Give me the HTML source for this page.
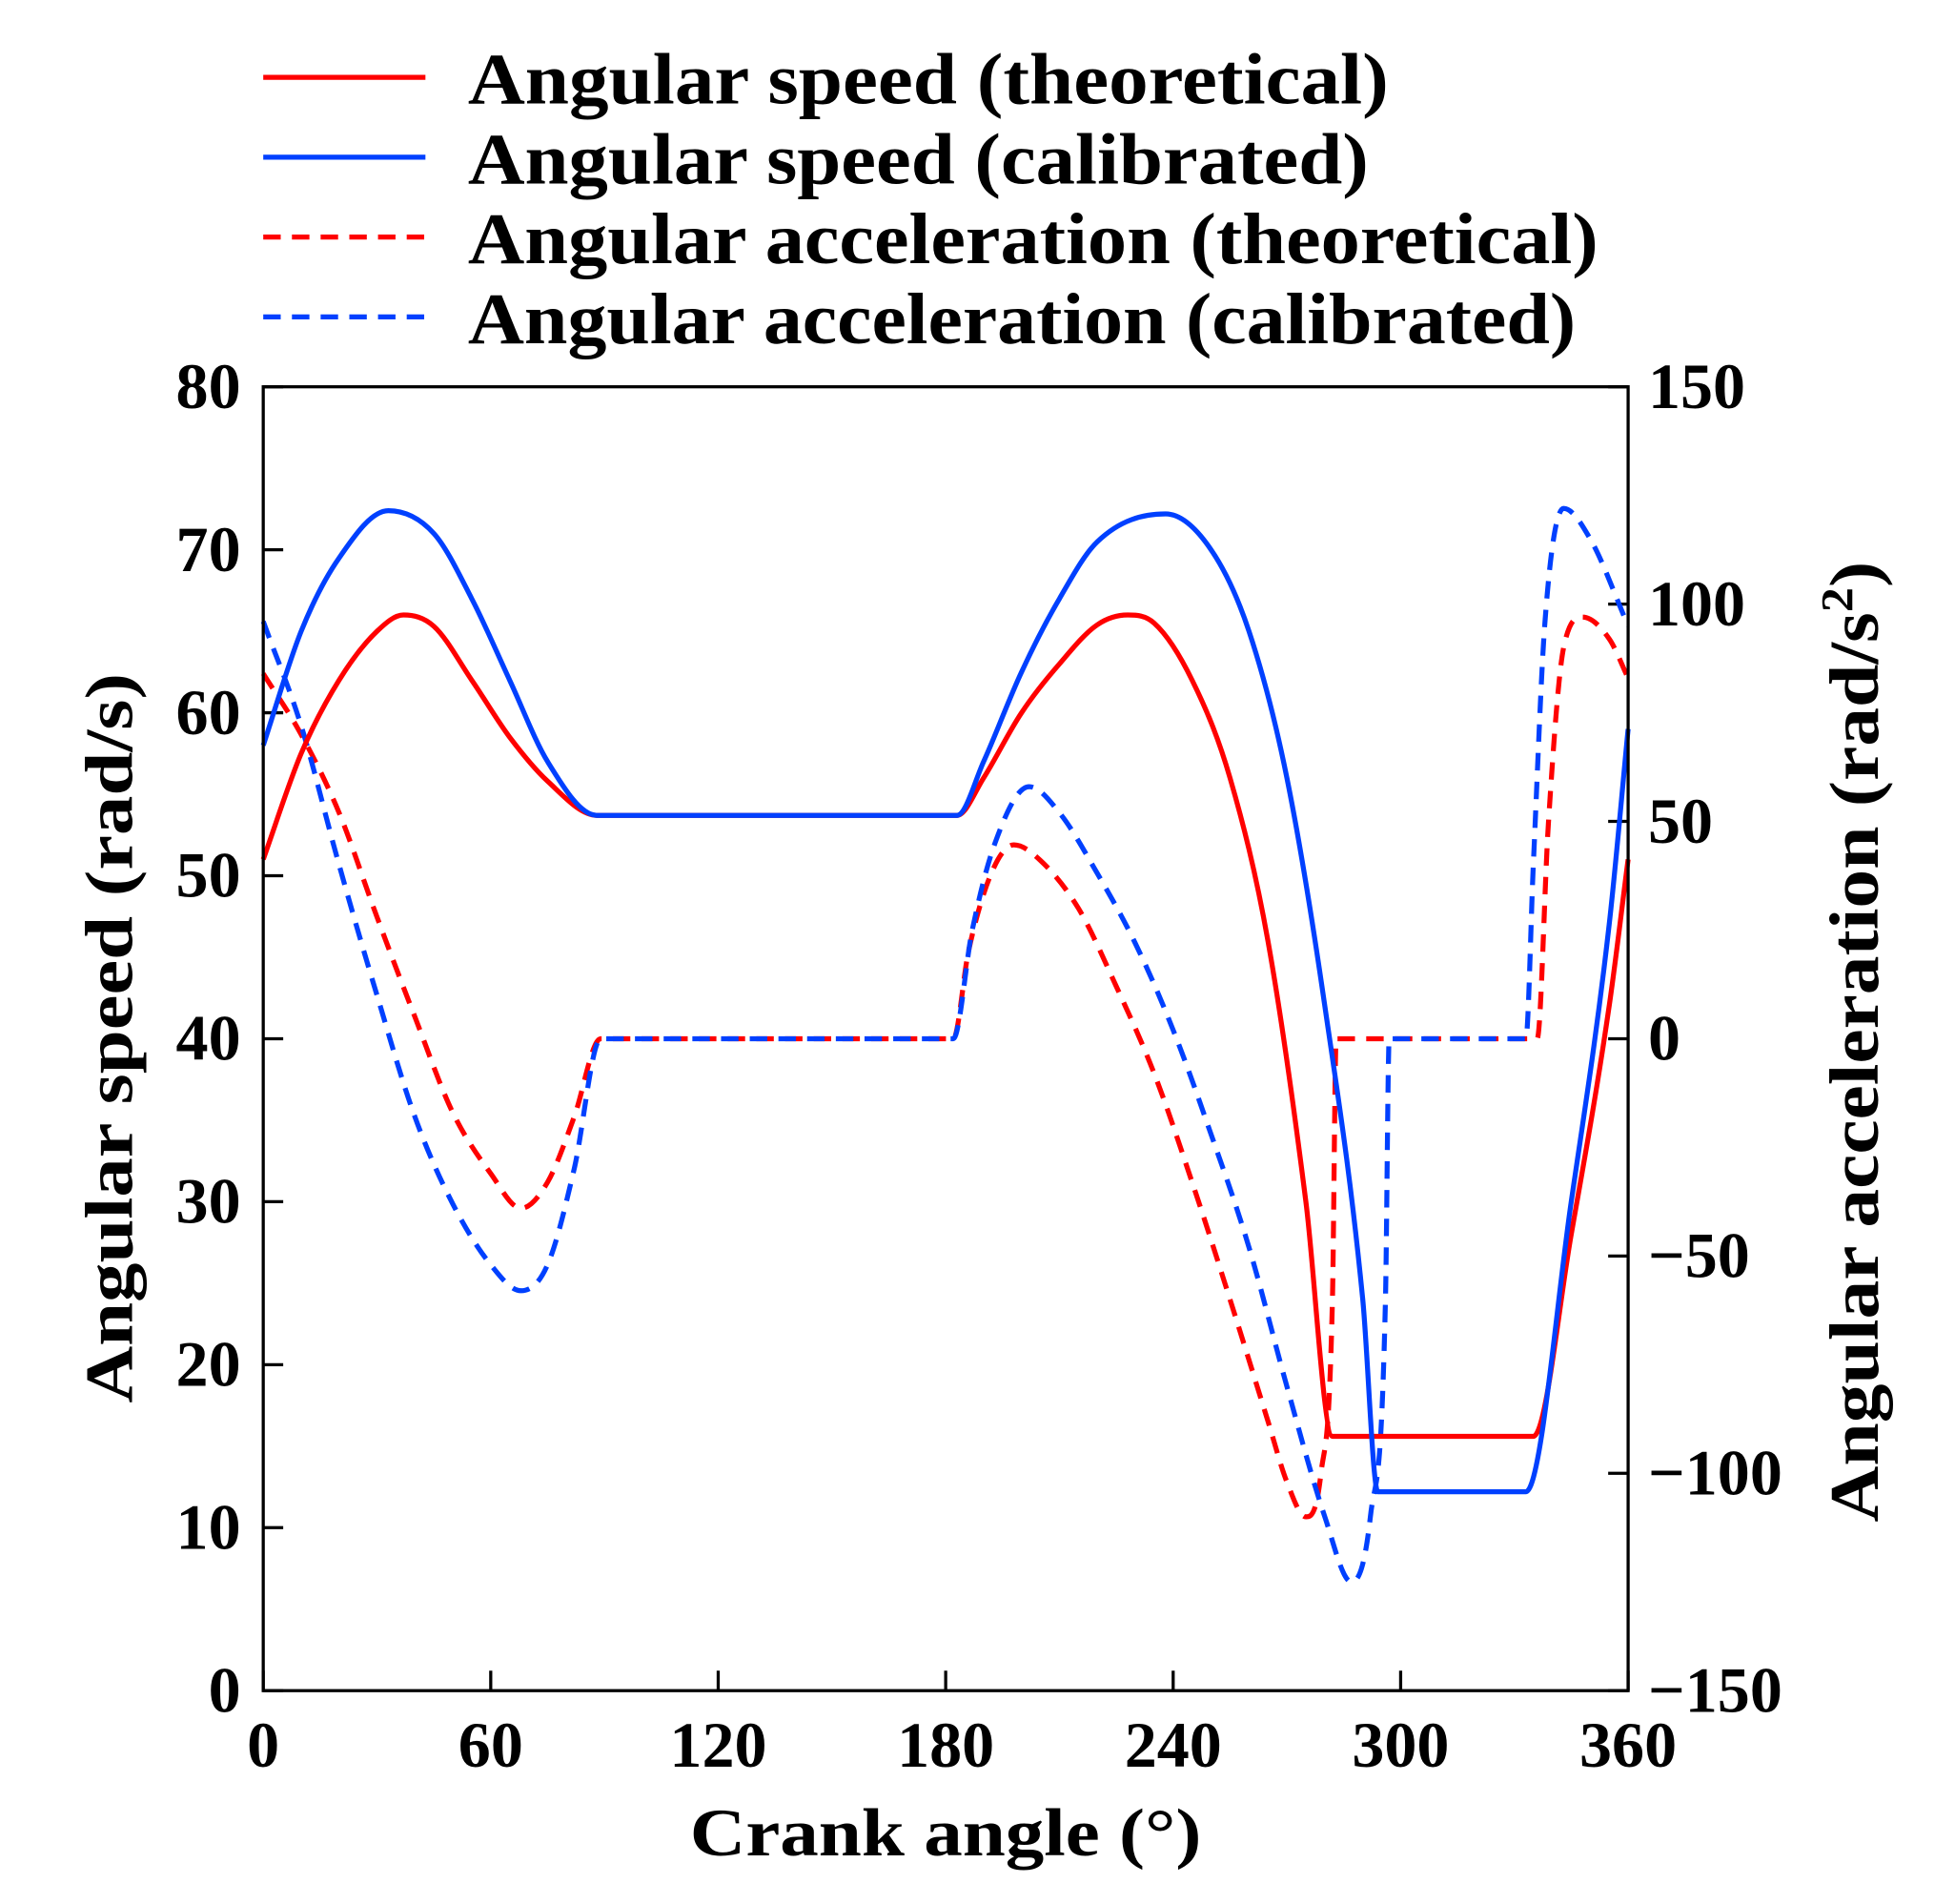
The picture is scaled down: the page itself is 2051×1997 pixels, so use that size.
<!DOCTYPE html>
<html><head><meta charset="utf-8"><style>
html,body{margin:0;padding:0;background:#fff;}
svg{display:block;}
text{font-family:"Liberation Serif",serif;font-weight:bold;fill:#000;}
</style></head><body>
<svg id="chart" width="2051" height="1997" viewBox="0 0 1567 1526" preserveAspectRatio="none" xmlns="http://www.w3.org/2000/svg">
<g id="legend">
 <line x1="211" y1="62" x2="341" y2="62" stroke="#f00" stroke-width="4"/>
 <text x="375" y="83" font-size="58" textLength="738" lengthAdjust="spacingAndGlyphs">Angular speed (theoretical)</text>
 <line x1="211" y1="126" x2="341" y2="126" stroke="#0040ff" stroke-width="4"/>
 <text x="375" y="147" font-size="58" textLength="722" lengthAdjust="spacingAndGlyphs">Angular speed (calibrated)</text>
 <line x1="211" y1="190" x2="341" y2="190" stroke="#f00" stroke-width="4" stroke-dasharray="14,9"/>
 <text x="375" y="211" font-size="58" textLength="906" lengthAdjust="spacingAndGlyphs">Angular acceleration (theoretical)</text>
 <line x1="211" y1="254" x2="341" y2="254" stroke="#0040ff" stroke-width="4" stroke-dasharray="14,9"/>
 <text x="375" y="275" font-size="58" textLength="888" lengthAdjust="spacingAndGlyphs">Angular acceleration (calibrated)</text>
</g>
<g id="axes"></g>
<g id="series"></g>
<rect x="211" y="310" width="1094" height="1045" fill="none" stroke="#000" stroke-width="2.5"/>
<text font-size="54" text-anchor="middle" textLength="585" lengthAdjust="spacingAndGlyphs" transform="translate(106,832) rotate(-90)">Angular speed (rad/s)</text>
<text font-size="56" text-anchor="middle" textLength="770" lengthAdjust="spacingAndGlyphs" transform="translate(1505,835) rotate(-90)">Angular acceleration (rad/s<tspan font-size="36" dy="-20">2</tspan><tspan dy="20">)</tspan></text>
<text font-size="54" text-anchor="middle" textLength="410" lengthAdjust="spacingAndGlyphs" x="758" y="1487">Crank angle (°)</text>
</svg>
<script>
const xTicks=[0,60,120,180,240,300,360];
const yLeftTicks=[0,10,20,30,40,50,60,70,80];
const yRightTicks=[-150,-100,-50,0,50,100,150];
const speedTheoAngles=[0,10,20,30,37,45,55,65,75,88,183,190,200,210,220,228,235,245,255,265,275,282,335,345,355,360];
const speedTheoValues=[51,57.5,62,65,66,65.3,62,58.5,55.8,53.7,53.7,56,60,63,65.4,66,65.5,62,56,46,30,15.6,15.6,28,42,51];
const speedCalAngles=[0,10,20,33,45,55,65,75,88,183,190,200,210,220,238,250,260,270,280,290,294,333,345,355,360];
const speedCalValues=[58,65,69.5,72.4,71,67,62,57,53.7,53.7,57,62.5,67,70.5,72.2,70,65,56,42,24,12.2,12.2,30,47,59];
const accTheoAngles=[0,10,20,30,40,50,60,68,75,82,89,182,186,192,198,205,215,225,235,245,255,265,270,275,279,282,283,336,339,343,348,355,360];
const accTheoValues=[84,70,52,28,5,-17,-31,-39,-33,-18,0,0,20,38,44.6,41,30,12,-8,-33,-60,-88,-102,-110,-100,-60,0,0,50,90,97,92,83];
const accCalAngles=[0,10,20,30,40,50,60,68,75,82,89,182,187,193,202,210,220,230,240,250,260,270,280,287,292,296,297,333,335,338,343,350,360];
const accCalValues=[96,72,40,10,-18,-38,-52,-58,-52,-30,0,0,25,45,58,52,38,22,2,-22,-48,-80,-110,-125,-110,-60,0,0,40,95,122,115,95];

const X0=211,X1=1305,Y0=1355,Y1=310;
const xs=a=>X0+(a/360)*(X1-X0);
const yl=v=>Y0-(v/80)*(Y0-Y1);
const yr=v=>Y0-((v+150)/300)*(Y0-Y1);
const NS="http://www.w3.org/2000/svg";
const axes=document.getElementById('axes'),series=document.getElementById('series');
function mk(tag,attrs,parent){const e=document.createElementNS(NS,tag);for(const k in attrs)e.setAttribute(k,attrs[k]);parent.appendChild(e);return e;}
xTicks.forEach(t=>{
 const l=mk('line',{x1:xs(t),x2:xs(t),y1:Y0,y2:Y0-16,stroke:'#000','stroke-width':2.5},axes);
 
 
 const tx=mk('text',{x:xs(t),y:Y0+61,'font-size':52,'text-anchor':'middle'},axes);tx.textContent=t;
 
 
});
yLeftTicks.forEach(t=>{
 const l=mk('line',{x1:X0,x2:X0+16,y1:yl(t),y2:yl(t),stroke:'#000','stroke-width':2.5},axes);
 
 
 const tx=mk('text',{x:X0-18,y:yl(t)+17,'font-size':52,'text-anchor':'end'},axes);tx.textContent=t;
 
 
});
yRightTicks.forEach(t=>{
 const l=mk('line',{x1:X1,x2:X1-16,y1:yr(t),y2:yr(t),stroke:'#000','stroke-width':2.5},axes);
 
 
 const tx=mk('text',{x:X1+16,y:yr(t)+17,'font-size':52,'text-anchor':'start'},axes);tx.textContent=t<0?'\u2212'+(-t):t;
 
 
});
function monoPath(px,py){
 const n=px.length,d=[],m=[];
 for(let i=0;i<n-1;i++)d.push((py[i+1]-py[i])/(px[i+1]-px[i]));
 m[0]=d[0];m[n-1]=d[n-2];
 for(let i=1;i<n-1;i++){m[i]=(d[i-1]*d[i]<=0)?0:(d[i-1]+d[i])/2;}
 for(let i=0;i<n-1;i++){
  if(d[i]===0){m[i]=0;m[i+1]=0;continue;}
  const a=m[i]/d[i],b=m[i+1]/d[i],s=a*a+b*b;
  if(s>9){const t=3/Math.sqrt(s);m[i]=t*a*d[i];m[i+1]=t*b*d[i];}
 }
 let p='M'+px[0].toFixed(1)+','+py[0].toFixed(1);
 for(let i=0;i<n-1;i++){
  const h=(px[i+1]-px[i])/3;
  p+=' C'+(px[i]+h).toFixed(1)+','+(py[i]+m[i]*h).toFixed(1)+' '+(px[i+1]-h).toFixed(1)+','+(py[i+1]-m[i+1]*h).toFixed(1)+' '+px[i+1].toFixed(1)+','+py[i+1].toFixed(1);
 }
 return p;
}
function draw(ang,val,yf,color,dash,name){
 const px=ang.map(xs),py=val.map(yf);
 const p=mk('path',{d:monoPath(px,py),fill:'none',stroke:color,'stroke-width':4,'stroke-linejoin':'round'},series);
 if(dash)p.setAttribute('stroke-dasharray','14,9');
 
 
}
draw(accTheoAngles,accTheoValues,yr,'#f00',true,'acceleration-theoretical-line');
draw(accCalAngles,accCalValues,yr,'#0040ff',true,'acceleration-calibrated-line');
draw(speedTheoAngles,speedTheoValues,yl,'#f00',false,'speed-theoretical-line');
draw(speedCalAngles,speedCalValues,yl,'#0040ff',false,'speed-calibrated-line');
</script>
</body></html>
